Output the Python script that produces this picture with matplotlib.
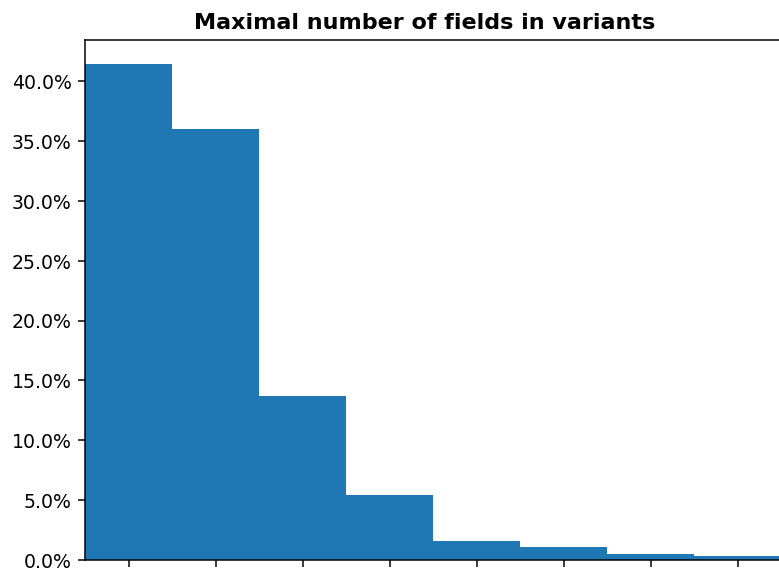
import matplotlib
matplotlib.use("Agg")
import matplotlib.pyplot as plt
from matplotlib.ticker import PercentFormatter

# datos: porcentaje de tipos por numero maximo de campos en variantes
campos = [1, 2, 3, 4, 5, 6, 7, 8]
porcentajes = [41.4, 36.0, 13.7, 5.4, 1.6, 1.05, 0.48, 0.33]

dpi = 136
fig = plt.figure(figsize=(779.4 / dpi, 572.4 / dpi), dpi=dpi)
# el eje sigue mas alla del borde derecho de la imagen (recortada)
ax = fig.add_axes([85 / 779, 12 / 572, 696 / 779, 520 / 572])

pos = list(range(len(campos)))
ax.bar(pos, porcentajes, width=1.0, color="#1f77b4")
ax.set_xlim(-0.5, len(campos) - 0.5)
ax.set_xticks(pos)
ax.set_xticklabels([""] * len(pos))
ax.yaxis.set_major_formatter(PercentFormatter(xmax=100, decimals=1))
ax.set_title("Maximal number of fields in variants", fontsize=11.8,
             fontweight="bold", x=0.487)

fig.savefig("out.png", dpi=dpi)
